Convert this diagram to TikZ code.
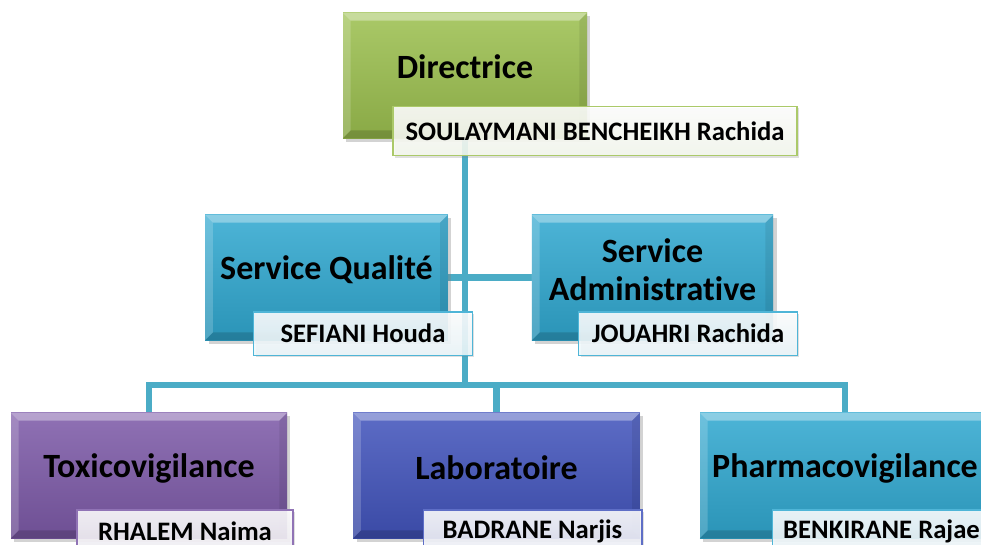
\documentclass[tikz,border=0pt]{standalone}
\usepackage{fontspec}
\setmainfont{Carlito}[Ligatures=NoCommon]
\usetikzlibrary{positioning}
\usetikzlibrary{shadows}
\usetikzlibrary{backgrounds}

\definecolor{dirgreen}{HTML}{9CC04F}
\definecolor{srvteal}{HTML}{30A8D0}
\definecolor{toxpurple}{HTML}{7D5AA8}
\definecolor{labblue}{HTML}{4254BC}
\definecolor{linkteal}{HTML}{4BACC6}

\tikzset{
	unitbox/.style={rectangle, inner sep=0pt,
		top color=#1!86!white, middle color=#1, bottom color=#1!88!black,
		drop shadow={shadow xshift=2.5pt, shadow yshift=-2.5pt, opacity=.35}},
	title/.style={inner sep=0pt, align=center, font=\fontsize{25.5}{28.5}\selectfont\bfseries},
	namebox/.style={rectangle, inner sep=0pt, minimum width=164pt, minimum height=32.5pt,
		draw=#1!85!white, line width=1pt, top color=white, bottom color=#1!10!white,
		fill opacity=.88, text opacity=1, font=\fontsize{20}{22}\selectfont\bfseries,
		drop shadow={shadow xshift=1.5pt, shadow yshift=-1.5pt, opacity=.25}},
	link/.style={draw=linkteal, line width=4.6pt},
}

\begin{document}
\begin{tikzpicture}[x=0.75pt,y=-0.75pt]
	\useasboundingbox (0,0) rectangle (981,544);

	% Directrice
	\node[unitbox=dirgreen, minimum width=183pt, minimum height=94pt] (dir) at (465,75.5) {};

	% services
	\node[unitbox=srvteal, minimum width=182pt, minimum height=94pt] (sq) at (326.5,277.5) {};
	\node[unitbox=srvteal, minimum width=181pt, minimum height=94pt] (sa) at (652.5,277.5) {};

	% units
	\node[unitbox=toxpurple, minimum width=207pt, minimum height=94pt] (tox) at (149,475.5) {};
	\node[unitbox=labblue, minimum width=215pt, minimum height=94pt] (lab) at (496.5,475.5) {};
	\node[unitbox=srvteal, minimum width=217.5pt, minimum height=94pt] (pha) at (845,475.5) {};

	% bevel edges
	\foreach \b in {dir,sq,sa,tox,lab,pha}{
		\fill[white,opacity=.35] (\b.north west) -- (\b.north east) -- ([shift={(-6pt,-6pt)}]\b.north east) -- ([shift={(6pt,-6pt)}]\b.north west) -- cycle;
		\fill[white,opacity=.18] (\b.north west) -- ([shift={(6pt,-6pt)}]\b.north west) -- ([shift={(6pt,6pt)}]\b.south west) -- (\b.south west) -- cycle;
		\fill[black,opacity=.15] (\b.south west) -- ([shift={(6pt,6pt)}]\b.south west) -- ([shift={(-6pt,6pt)}]\b.south east) -- (\b.south east) -- cycle;
		\fill[black,opacity=.08] (\b.north east) -- ([shift={(-6pt,-6pt)}]\b.north east) -- ([shift={(-6pt,6pt)}]\b.south east) -- (\b.south east) -- cycle;
	}

	\node[title] (dirt) at ([yshift=6.4pt]dir.center) {Directrice};
	\node[title] (sqt) at ([yshift=5.6pt]sq.center) {Service Qualité};
	\node[title] (sat) at ([yshift=5.6pt]sa.center) {Service\\Administrative};
	\node[title] (toxt) at ([yshift=5.6pt]tox.center) {Toxicovigilance};
	\node[title] (labt) at ([yshift=5.6pt]lab.center) {Laboratoire};
	\node[title] (phat) at ([yshift=5.6pt]pha.center) {Pharmacovigilance};

	% names
	\node[namebox=dirgreen, minimum width=303pt, minimum height=37pt] (dirn) at (595,131) {SOULAYMANI BENCHEIKH Rachida};
	\node[namebox=srvteal] (sqn) at (363,333.5) {SEFIANI Houda};
	\node[namebox=srvteal] (san) at (688,333.5) {JOUAHRI Rachida};
	\node[namebox=toxpurple, minimum width=162pt] (toxn) at (185,531.5) {RHALEM Naima};
	\node[namebox=labblue] (labn) at (532.5,531.5) {BADRANE Narjis};
	\node[namebox=srvteal] (phan) at (881.5,531.5) {BENKIRANE Rajae};

	% connectors
	\coordinate (hub) at (465,385);
	\begin{scope}[on background layer]
		\draw[link] (dir.south) -- (hub);
		\draw[link] (sq.east) -- (sa.west);
		\draw[link] (tox.north) |- (hub) -| (pha.north);
		\draw[link] (lab.north) |- (hub);
	\end{scope}
\end{tikzpicture}
\end{document}
